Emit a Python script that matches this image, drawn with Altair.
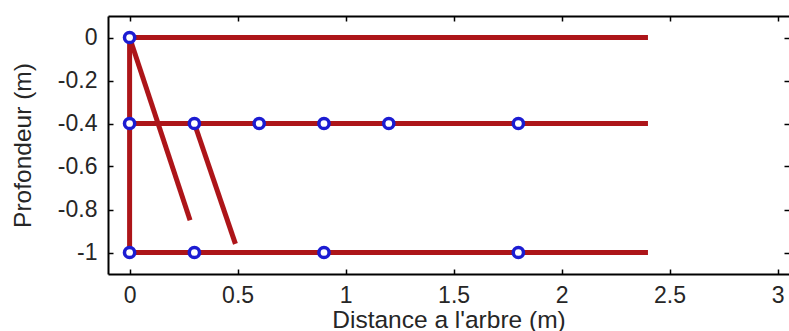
import altair as alt
import pandas as pd

# Root segments (distance to the tree and depth, in metres)
seg_x0 = [0.0, 0.0, 0.0, 0.0, 0.0, 0.30]
seg_x1 = [2.4, 2.4, 2.4, 0.0, 0.28, 0.49]
seg_y0 = [0.0, -0.4, -1.0, 0.0, 0.0, -0.40]
seg_y1 = [0.0, -0.4, -1.0, -1.0, -0.85, -0.96]

# Sensor positions
sensor_x = [0.0, 0.0, 0.3, 0.6, 0.9, 1.2, 1.8, 0.0, 0.3, 0.9, 1.8]
sensor_y = [0.0, -0.4, -0.4, -0.4, -0.4, -0.4, -0.4, -1.0, -1.0, -1.0, -1.0]

x_ticks = [0, 0.5, 1, 1.5, 2, 2.5, 3]
y_ticks = [-1, -0.8, -0.6, -0.4, -0.2, 0]

W, H = 681, 258
FONT = "Liberation Sans"
TEXT = "#262626"
RED = "#ad1519"
BLUE = "#1c1cd2"

segs = pd.DataFrame({"x0": seg_x0, "x1": seg_x1, "y0": seg_y0, "y1": seg_y1})
sensors = pd.DataFrame({"x": sensor_x, "y": sensor_y})

xscale = alt.Scale(domain=[-0.1, 3.053], nice=False, zero=False)
yscale = alt.Scale(domain=[-1.1, 0.1], nice=False, zero=False)

label_expr = "'' + datum.value"

# Main axes: frame lines on bottom/left, labels and titles
x_main = alt.Axis(
    orient="bottom", values=x_ticks, labelExpr=label_expr, ticks=False, tickSize=0,
    domain=True, domainColor="black", domainWidth=2, grid=False,
    labelFont=FONT, labelFontSize=23, labelColor=TEXT, labelPadding=10,
    labelFlush=False,
    title="Distance a l'arbre (m)", titleFont=FONT, titleFontSize=24.5,
    titleFontWeight="normal", titleColor=TEXT,
    titleBaseline="alphabetic", titleY=53,
)
y_main = alt.Axis(
    orient="left", values=y_ticks, labelExpr=label_expr, ticks=False, tickSize=0,
    domain=True, domainColor="black", domainWidth=2, grid=False,
    labelFont=FONT, labelFontSize=23, labelColor=TEXT, labelPadding=11,
    labelFlush=False,
    title="Profondeur (m)", titleFont=FONT, titleFontSize=24.5,
    titleFontWeight="normal", titleColor=TEXT,
    titleBaseline="alphabetic", titleX=-78,
)

# Inward ticks on bottom and left edges
x_in_bottom = alt.Axis(
    orient="top", offset=-H, values=x_ticks, labels=False, domain=False,
    ticks=True, tickSize=5, tickWidth=1.5, tickColor="black", grid=False, title=None,
)
y_in_left = alt.Axis(
    orient="right", offset=-W, values=y_ticks, labels=False, domain=False,
    ticks=True, tickSize=5, tickWidth=1.5, tickColor="black", grid=False, title=None,
)

# Top frame line with inward ticks, and inward ticks on the right edge
x_top = alt.Axis(
    orient="bottom", offset=-H, values=x_ticks, labels=False, domain=True,
    domainColor="black", domainWidth=2,
    ticks=True, tickSize=5, tickWidth=1.5, tickColor="black", grid=False, title=None,
)
y_right = alt.Axis(
    orient="left", offset=-W, values=y_ticks, labels=False, domain=False,
    ticks=True, tickSize=5, tickWidth=1.5, tickColor="black", grid=False, title=None,
)

roots = alt.Chart(segs).mark_rule(
    color=RED, strokeWidth=5, strokeCap="butt"
).encode(
    x=alt.X("x0:Q", scale=xscale, axis=x_main),
    x2="x1:Q",
    y=alt.Y("y0:Q", scale=yscale, axis=y_main),
    y2="y1:Q",
)

points = alt.Chart(sensors).mark_point(
    shape="circle", size=105, filled=False, fill="white", fillOpacity=1,
    stroke=BLUE, strokeWidth=3.5, opacity=1,
).encode(
    x=alt.X("x:Q", scale=xscale, axis=x_in_bottom),
    y=alt.Y("y:Q", scale=yscale, axis=y_in_left),
)

frame = alt.Chart(sensors).mark_point(opacity=0).encode(
    x=alt.X("x:Q", scale=xscale, axis=x_top),
    y=alt.Y("y:Q", scale=yscale, axis=y_right),
)

chart = (
    alt.layer(roots, points, frame)
    .resolve_axis(x="independent", y="independent")
    .properties(
        width=W,
        height=H,
        padding={"left": 108, "top": 16, "right": 0, "bottom": 57},
        autosize=alt.AutoSizeParams(type="none"),
        background="white",
    )
    .configure_view(stroke=None)
)

chart.save("out.html", embed_options={"renderer": "svg", "actions": False})
